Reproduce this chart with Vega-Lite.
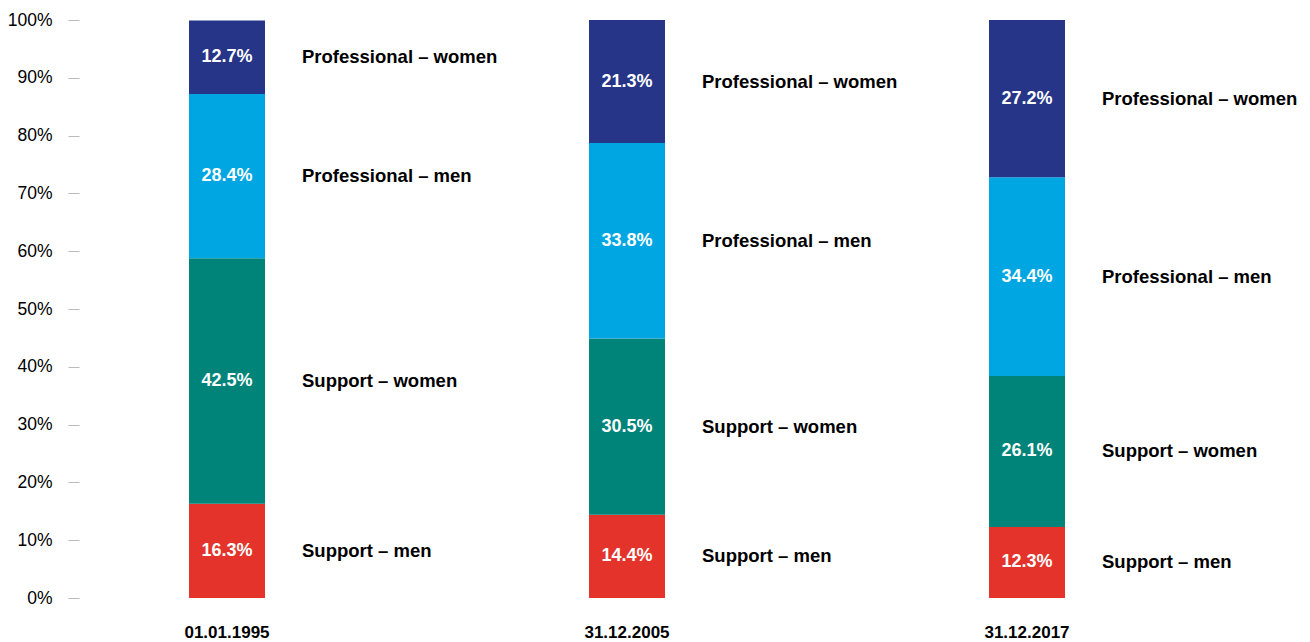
{
  "$schema": "https://vega.github.io/schema/vega-lite/v6.json",
  "width": 1096,
  "height": 578,
  "autosize": {"type": "none"},
  "padding": {"left": 79, "top": 20, "right": 135, "bottom": 44},
  "background": "white",
  "config": {"font": "Liberation Sans", "view": {"stroke": null}},
  "data": {
    "values": [
      {"date": "01.01.1995", "category": "Support – men", "rank": 1, "value": 16.3, "pct": "16.3%"},
      {"date": "01.01.1995", "category": "Support – women", "rank": 2, "value": 42.5, "pct": "42.5%"},
      {"date": "01.01.1995", "category": "Professional – men", "rank": 3, "value": 28.4, "pct": "28.4%"},
      {"date": "01.01.1995", "category": "Professional – women", "rank": 4, "value": 12.7, "pct": "12.7%"},
      {"date": "31.12.2005", "category": "Support – men", "rank": 1, "value": 14.4, "pct": "14.4%"},
      {"date": "31.12.2005", "category": "Support – women", "rank": 2, "value": 30.5, "pct": "30.5%"},
      {"date": "31.12.2005", "category": "Professional – men", "rank": 3, "value": 33.8, "pct": "33.8%"},
      {"date": "31.12.2005", "category": "Professional – women", "rank": 4, "value": 21.3, "pct": "21.3%"},
      {"date": "31.12.2017", "category": "Support – men", "rank": 1, "value": 12.3, "pct": "12.3%"},
      {"date": "31.12.2017", "category": "Support – women", "rank": 2, "value": 26.1, "pct": "26.1%"},
      {"date": "31.12.2017", "category": "Professional – men", "rank": 3, "value": 34.4, "pct": "34.4%"},
      {"date": "31.12.2017", "category": "Professional – women", "rank": 4, "value": 27.2, "pct": "27.2%"}
    ]
  },
  "transform": [
    {"stack": "value", "groupby": ["date"], "sort": [{"field": "rank", "order": "ascending"}], "as": ["v0", "v1"]}
  ],
  "encoding": {
    "x": {
      "field": "date",
      "type": "nominal",
      "sort": null,
      "scale": {"paddingInner": 0.81, "paddingOuter": 0.275},
      "axis": {
        "title": null,
        "ticks": false,
        "domain": false,
        "labelAngle": 0,
        "labelPadding": 26,
        "labelFontSize": 17,
        "labelFontWeight": "bold",
        "labelColor": "#000000"
      }
    }
  },
  "layer": [
    {
      "mark": {"type": "bar"},
      "encoding": {
        "y": {
          "field": "v0",
          "type": "quantitative",
          "scale": {"domain": [0, 100]},
          "axis": {
            "title": null,
            "values": [0, 10, 20, 30, 40, 50, 60, 70, 80, 90, 100],
            "labelExpr": "datum.value + '%'",
            "grid": false,
            "domain": false,
            "tickSize": 11,
            "tickColor": "#bbbbbb",
            "labelPadding": 16,
            "labelFontSize": 17.5,
            "labelColor": "#000000"
          }
        },
        "y2": {"field": "v1"},
        "color": {
          "field": "category",
          "type": "nominal",
          "legend": null,
          "scale": {
            "domain": ["Support – men", "Support – women", "Professional – men", "Professional – women"],
            "range": ["#e4332a", "#00847a", "#00a6e2", "#263587"]
          }
        }
      }
    },
    {
      "transform": [{"fold": ["v0", "v1"], "as": ["edge", "pos"]}],
      "mark": {"type": "text", "color": "white", "fontWeight": "bold", "fontSize": 18, "baseline": "middle"},
      "encoding": {
        "y": {"field": "pos", "aggregate": "mean", "type": "quantitative"},
        "detail": {"field": "category"},
        "text": {"field": "pct"}
      }
    },
    {
      "transform": [{"fold": ["v0", "v1"], "as": ["edge", "pos"]}],
      "mark": {"type": "text", "color": "black", "fontWeight": "bold", "fontSize": 18.5, "align": "left", "baseline": "middle", "dx": 75},
      "encoding": {
        "y": {"field": "pos", "aggregate": "mean", "type": "quantitative"},
        "text": {"field": "category"}
      }
    }
  ]
}
